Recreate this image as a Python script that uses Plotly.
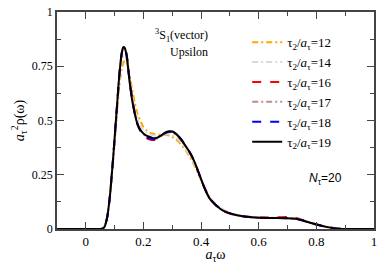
import plotly.graph_objects as go

omega = [-0.1, 0.0, 0.05, 0.06, 0.065, 0.07, 0.075, 0.08, 0.085, 0.09, 0.095, 0.10, 0.105, 0.11, 0.115,
         0.12, 0.125, 0.13, 0.135, 0.14, 0.145, 0.15, 0.16, 0.17, 0.18, 0.19, 0.20, 0.21, 0.22, 0.23,
         0.24, 0.25, 0.26, 0.27, 0.28, 0.29, 0.30, 0.31, 0.32, 0.33, 0.34, 0.35, 0.36, 0.37, 0.38, 0.39,
         0.40, 0.41, 0.42, 0.43, 0.44, 0.45, 0.46, 0.47, 0.48, 0.50, 0.52, 0.55, 0.60, 0.65, 0.70, 0.73,
         0.75, 0.77, 0.80, 0.83, 0.86, 0.88, 0.90, 1.0]

rho_12 = [0, 0, 0, 0.003, 0.01, 0.03, 0.06, 0.105, 0.165, 0.24, 0.32, 0.40, 0.48, 0.56, 0.64,
          0.70, 0.74, 0.765, 0.775, 0.77, 0.75, 0.72, 0.65, 0.58, 0.53, 0.495, 0.47, 0.455, 0.445, 0.44,
          0.437, 0.435, 0.435, 0.435, 0.433, 0.43, 0.425, 0.415, 0.405, 0.39, 0.375, 0.355, 0.335, 0.31, 0.285, 0.255,
          0.225, 0.195, 0.17, 0.145, 0.13, 0.115, 0.103, 0.093, 0.085, 0.074, 0.066, 0.058, 0.053, 0.052, 0.051, 0.048,
          0.041, 0.033, 0.021, 0.011, 0.004, 0.001, 0, 0]

rho_14 = [0, 0, 0, 0.003, 0.01, 0.03, 0.06, 0.108, 0.168, 0.245, 0.325, 0.41, 0.495, 0.58, 0.665,
          0.73, 0.775, 0.80, 0.80, 0.785, 0.75, 0.70, 0.62, 0.555, 0.505, 0.475, 0.455, 0.445, 0.437, 0.432,
          0.43, 0.43, 0.432, 0.435, 0.437, 0.437, 0.433, 0.425, 0.413, 0.398, 0.38, 0.36, 0.34, 0.315, 0.29, 0.26,
          0.23, 0.20, 0.172, 0.148, 0.132, 0.118, 0.106, 0.096, 0.087, 0.075, 0.067, 0.059, 0.053, 0.052, 0.051, 0.048,
          0.041, 0.033, 0.022, 0.012, 0.005, 0.002, 0, 0]

rho_16 = [0, 0, 0, 0.003, 0.01, 0.03, 0.06, 0.11, 0.17, 0.25, 0.33, 0.42, 0.51, 0.60, 0.69,
          0.76, 0.81, 0.833, 0.835, 0.815, 0.775, 0.71, 0.61, 0.535, 0.48, 0.45, 0.432, 0.42, 0.413, 0.41,
          0.41, 0.415, 0.425, 0.437, 0.445, 0.448, 0.447, 0.44, 0.428, 0.413, 0.395, 0.375, 0.355, 0.33, 0.30, 0.265,
          0.23, 0.195, 0.165, 0.14, 0.124, 0.111, 0.099, 0.089, 0.081, 0.071, 0.064, 0.058, 0.053, 0.053, 0.055, 0.051,
          0.042, 0.032, 0.021, 0.011, 0.004, 0.001, 0, 0]

rho_17 = [0, 0, 0, 0.003, 0.01, 0.03, 0.06, 0.11, 0.17, 0.25, 0.33, 0.42, 0.51, 0.60, 0.69,
          0.76, 0.81, 0.83, 0.83, 0.81, 0.77, 0.705, 0.605, 0.535, 0.485, 0.455, 0.437, 0.427, 0.42, 0.416,
          0.415, 0.418, 0.426, 0.436, 0.443, 0.446, 0.445, 0.439, 0.427, 0.412, 0.394, 0.374, 0.354, 0.33, 0.30, 0.265,
          0.23, 0.195, 0.165, 0.14, 0.125, 0.112, 0.10, 0.09, 0.082, 0.072, 0.065, 0.058, 0.052, 0.051, 0.051, 0.048,
          0.041, 0.032, 0.021, 0.011, 0.004, 0.001, 0, 0]

rho_18 = [0, 0, 0, 0.003, 0.01, 0.03, 0.06, 0.11, 0.17, 0.25, 0.33, 0.42, 0.51, 0.60, 0.69,
          0.76, 0.812, 0.835, 0.835, 0.812, 0.77, 0.705, 0.605, 0.532, 0.482, 0.452, 0.435, 0.425, 0.418, 0.414,
          0.414, 0.418, 0.427, 0.438, 0.445, 0.448, 0.447, 0.44, 0.428, 0.413, 0.395, 0.375, 0.355, 0.33, 0.30, 0.265,
          0.23, 0.195, 0.165, 0.14, 0.125, 0.112, 0.10, 0.09, 0.082, 0.072, 0.065, 0.058, 0.052, 0.051, 0.050, 0.047,
          0.040, 0.032, 0.021, 0.011, 0.004, 0.001, 0, 0]

rho_19 = [0, 0, 0, 0.003, 0.01, 0.03, 0.06, 0.11, 0.17, 0.25, 0.33, 0.42, 0.51, 0.60, 0.69,
          0.76, 0.815, 0.838, 0.835, 0.81, 0.765, 0.70, 0.60, 0.53, 0.48, 0.455, 0.44, 0.43, 0.425, 0.42,
          0.418, 0.422, 0.43, 0.44, 0.447, 0.45, 0.449, 0.442, 0.43, 0.415, 0.395, 0.375, 0.355, 0.33, 0.30, 0.265,
          0.23, 0.195, 0.165, 0.14, 0.125, 0.112, 0.10, 0.09, 0.082, 0.072, 0.065, 0.058, 0.052, 0.051, 0.050, 0.047,
          0.040, 0.032, 0.021, 0.011, 0.004, 0.001, 0, 0]

labels = ["12", "14", "16", "17", "18", "19"]
series = [rho_12, rho_14, rho_16, rho_17, rho_18, rho_19]
colors = ["#ffa500", "#d9d9d9", "#ff0000", "#bc8f8f", "#0000ff", "#000000"]
dashes = ["6px,3px,2px,3px", "6px,3px,2px,3px", "dash", "6px,3px,2px,3px", "dash", "solid"]

fig = go.Figure()
for lab, ys, c, d in zip(labels, series, colors, dashes):
    fig.add_trace(go.Scatter(
        x=omega, y=ys, mode="lines", line=dict(color=c, width=2, dash=d, shape="spline", smoothing=0.6),
        name="τ<sub>2</sub>/<i>a</i><sub>τ</sub>=" + lab))

serif = "Liberation Serif, Times New Roman, serif"
fig.update_layout(
    width=382, height=264,
    margin=dict(l=57, r=5, t=6, b=35),
    paper_bgcolor="white", plot_bgcolor="white",
    font=dict(family=serif, size=13, color="black"),
    showlegend=True,
    legend=dict(x=0.60, y=0.93, xanchor="left", yanchor="top", bgcolor="rgba(0,0,0,0)",
                font=dict(family=serif, size=13), itemwidth=30, tracegroupgap=0),
    xaxis=dict(range=[-0.1, 1.0], tickvals=[0, 0.2, 0.4, 0.6, 0.8, 1.0],
               ticktext=["0", "0.2", "0.4", "0.6", "0.8", "1"],
               ticks="inside", ticklen=7, tickwidth=1.2, tickcolor="#444",
               minor=dict(tickvals=[-0.1, 0.1, 0.3, 0.5, 0.7, 0.9], ticks="inside", ticklen=4, tickcolor="#444"),
               showline=True, linecolor="#444", linewidth=1.5, mirror="ticks",
               showgrid=False, zeroline=False, tickfont=dict(family=serif, size=13),
               title=dict(text="<i>a</i><sub>τ</sub>ω", font=dict(family=serif, size=14), standoff=0)),
    yaxis=dict(range=[0, 1.0], tickvals=[0, 0.25, 0.5, 0.75, 1.0],
               ticktext=["0", "0.25", "0.5", "0.75", "1"],
               ticks="inside", ticklen=7, tickwidth=1.2, tickcolor="#444",
               minor=dict(tickvals=[0.125, 0.375, 0.625, 0.875], ticks="inside", ticklen=4, tickcolor="#444"),
               showline=True, linecolor="#444", linewidth=1.5, mirror="ticks",
               showgrid=False, zeroline=False, tickfont=dict(family=serif, size=12),
               title=dict(text="<i>a</i><sub>τ</sub><sup>2</sup>ρ(ω)", font=dict(family=serif, size=14), standoff=4)),
)

fig.add_annotation(x=0.484, y=0.892, xref="paper", yref="paper", xanchor="right", yanchor="middle",
                   text="<sup>3</sup>S<sub>1</sub>(vector)", showarrow=False, font=dict(family=serif, size=12))
fig.add_annotation(x=0.484, y=0.816, xref="paper", yref="paper", xanchor="right", yanchor="middle",
                   text="Upsilon", showarrow=False, font=dict(family=serif, size=12))
fig.add_annotation(x=0.847, y=0.229, xref="paper", yref="paper", xanchor="center", yanchor="middle",
                   text="<i>N</i><sub>τ</sub>=20", showarrow=False, font=dict(family="Liberation Sans", size=12))

fig.write_html("out.html", config={"displayModeBar": False},
               post_script="document.body.style.margin='0';document.body.style.padding='0';")
